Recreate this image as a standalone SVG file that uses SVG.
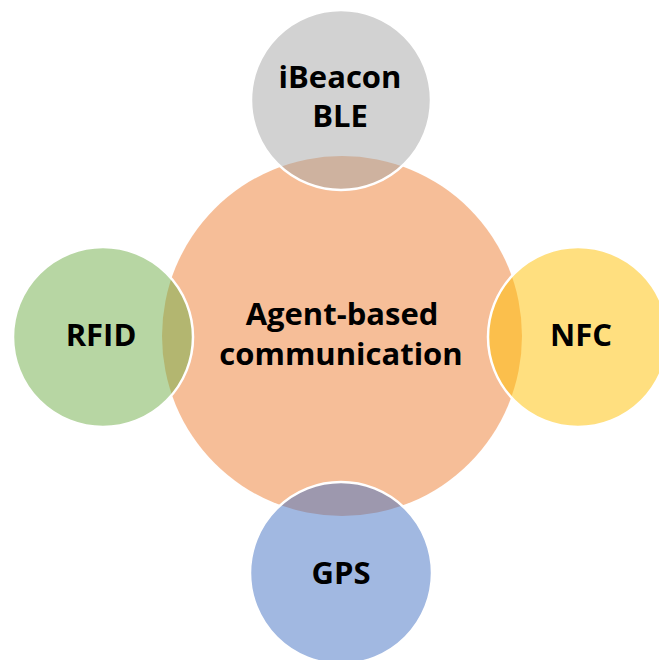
<svg xmlns="http://www.w3.org/2000/svg" width="659" height="660" viewBox="0 0 659 660">
<style>
.c{fill-opacity:0.5}
.s{stroke:#ffffff;stroke-width:2.5}
.t{font-family:"Open Sans","Liberation Sans",sans-serif;font-weight:bold;font-size:31px;fill:#000;text-anchor:middle}
</style>
<rect width="659" height="660" fill="#ffffff"/>
<g id="center">
<circle class="c" cx="342" cy="336" r="180" fill="#ED7D31"/>
</g>
<g id="ibeacon">
<circle class="c s" cx="341" cy="100" r="90" fill="#A5A5A5"/>
</g>
<g id="rfid">
<circle class="c s" cx="103" cy="337" r="90" fill="#70AD47"/>
</g>
<g id="nfc">
<circle class="c s" cx="578" cy="337" r="90" fill="#FFC000"/>
</g>
<g id="gps">
<circle class="c s" cx="341" cy="573" r="91" fill="#4472C4"/>
</g>
<g id="connectors"></g>
<g id="labels">
<text class="t" x="342" y="325">Agent-based</text>
<text class="t" x="341" y="365">communication</text>
<text class="t" x="340" y="88">iBeacon</text>
<text class="t" x="340" y="127">BLE</text>
<text class="t" x="101" y="346">RFID</text>
<text class="t" x="581" y="346">NFC</text>
<text class="t" x="341" y="584">GPS</text>
</g>
</svg>
